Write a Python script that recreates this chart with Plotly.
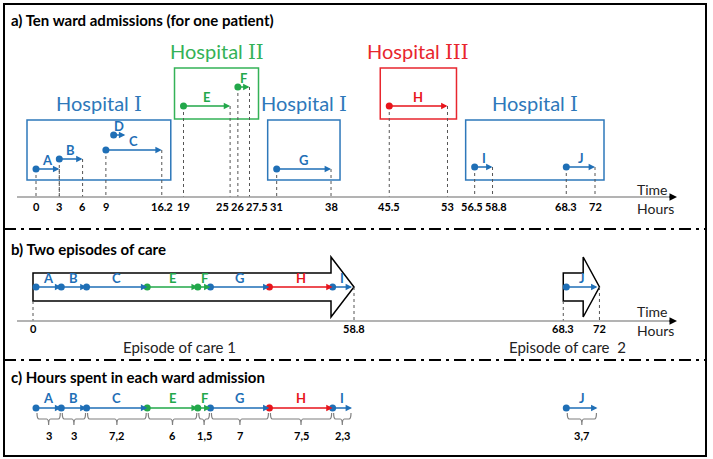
import plotly.graph_objects as go

# ---------------- data ----------------
wards = ["A", "B", "C", "D", "E", "F", "G", "H", "I", "J"]
start_h = [0, 3, 9, 10, 19, 26, 31, 45.5, 56.5, 68.3]
end_h = [3, 6, 16.2, 11.5, 25, 27.5, 38, 53, 58.8, 72]
hospitals = ["Hospital I", "Hospital I", "Hospital I", "Hospital I",
             "Hospital II", "Hospital II", "Hospital I", "Hospital III",
             "Hospital I", "Hospital I"]
stay_no = [1, 1, 1, 1, 2, 2, 3, 4, 5, 5]
nested_in = [None, None, None, "C", None, None, None, None, None, None]
episode_no = [1, 1, 1, 1, 1, 1, 1, 1, 1, 2]
episode_names = ["Episode of care 1", "Episode of care  2"]
panel_titles = ["a) Ten ward admissions (for one patient)",
                "b) Two episodes of care",
                "c) Hours spent in each ward admission"]

# ---------------- style / layout ----------------
W, H = 713, 459
FONT = "Lato"
COL = {"Hospital I": "#1F6FB6", "Hospital II": "#22A84A", "Hospital III": "#E8141B"}
BOXCOL = {"Hospital I": "#2E78BA", "Hospital II": "#34B257", "Hospital III": "#E8262E"}
LANE_A = {"A": 169, "B": 159, "C": 150, "D": 135, "E": 106, "F": 87,
          "G": 169, "H": 106, "I": 167, "J": 167}
BOX_Y = {"Hospital I": (120, 180), "Hospital II": (68, 119), "Hospital III": (68, 119)}
BOX_PAD = 9
AXIS_A_Y = 197
CHAIN_B_Y, CHAIN_C_Y = 287, 408
AXIS_B_Y = 321
A_X0, A_X1 = 36, 595
CH_X1 = 352
DOT = 7
HEAD = 0.85

t_min, t_max = min(start_h), max(end_h)
sA = (A_X1 - A_X0) / (t_max - t_min)
def pxA(t):
    return A_X0 + (t - t_min) * sA

chain_idx = [i for i in range(len(wards)) if nested_in[i] is None]
eps = sorted(set(episode_no))
ep1 = [i for i in chain_idx if episode_no[i] == eps[0]]
ep1_len = sum(end_h[i] - start_h[i] for i in ep1)
CH_X0 = pxA(start_h[ep1[0]])
sB = (CH_X1 - CH_X0) / ep1_len
def uB(px):
    return (px - CH_X0) / sB

u_start, u_end, ep_span = {}, {}, {}
for e in eps:
    members = [i for i in chain_idx if episode_no[i] == e]
    u = uB(pxA(start_h[members[0]]))
    u0 = u
    for i in members:
        u_start[i] = u
        u += end_h[i] - start_h[i]
        u_end[i] = u
    ep_span[e] = (u0, u, start_h[members[0]], end_h[members[-1]])

fig = go.Figure()
ann, shp = [], []

def px_paper(x):
    return x / W

def arrow(xref, x0, x1, y, color, width=1.5):
    ann.append(dict(xref=xref, yref="y", axref=xref, ayref="y", x=x1, y=y, ax=x0, ay=y,
                    text="", showarrow=True, arrowhead=2, arrowsize=HEAD, arrowwidth=width,
                    arrowcolor=color, standoff=0, startstandoff=0))

def text(x, y, s, size, color="#000", bold=False, xref="x", xanchor="center", xshift=0,
         yanchor="middle"):
    if bold:
        s = "<b>" + s + "</b>"
    ann.append(dict(xref=xref, yref="y", x=x, y=y, text=s, showarrow=False,
                    xanchor=xanchor, yanchor=yanchor, xshift=xshift, borderpad=0,
                    font=dict(family=FONT, size=size, color=color)))

def dotted(xs, y0s, y1s, xaxis):
    X, Y = [], []
    for x, a, b in zip(xs, y0s, y1s):
        X += [x, x, None]
        Y += [a, b, None]
    fig.add_trace(go.Scatter(x=X, y=Y, mode="lines", xaxis=xaxis, yaxis="y",
                             line=dict(color="#555555", width=1, dash="dot"),
                             hoverinfo="skip", showlegend=False))

def dots(xs, ys, colors, xaxis, size=DOT):
    fig.add_trace(go.Scatter(x=xs, y=ys, mode="markers", xaxis=xaxis, yaxis="y",
                             marker=dict(size=size, color=colors, line=dict(width=0)),
                             hoverinfo="skip", showlegend=False))

def roman_label(name):
    base, num = name.split(" ")
    return base + ' <span style="font-family:DejaVu Serif,serif">' + num + "</span>"

# ---------------- frame ----------------
shp.append(dict(type="rect", xref="paper", yref="y", x0=px_paper(4), x1=px_paper(706),
                y0=4, y1=456, line=dict(color="#000", width=2)))
for ysep in (229, 360):
    shp.append(dict(type="line", xref="paper", yref="y", x0=px_paper(4), x1=px_paper(706),
                    y0=ysep, y1=ysep, line=dict(color="#000", width=2, dash="12px,5px,3px,5px")))
for ty, t in zip((20, 249, 377), panel_titles):
    text(px_paper(10), ty, t, 15, bold=True, xref="paper", xanchor="left")

# ---------------- panel a ----------------
for s in sorted(set(stay_no)):
    mem = [i for i in range(len(wards)) if stay_no[i] == s]
    h = hospitals[mem[0]]
    x0 = min(start_h[i] for i in mem) - BOX_PAD / sA
    x1 = max(end_h[i] for i in mem) + BOX_PAD / sA
    yt, yb = BOX_Y[h]
    shp.append(dict(type="rect", xref="x", yref="y", x0=x0, x1=x1, y0=yt, y1=yb,
                    line=dict(color=BOXCOL[h], width=1.5), layer="below"))
    text((x0 + x1) / 2, yt - 3, roman_label(h), 20, color=BOXCOL[h], yanchor="bottom")

gx, gy0, gy1 = [], [], []
for i in chain_idx:
    for t in (start_h[i], end_h[i]):
        gx.append(t); gy0.append(LANE_A[wards[i]]); gy1.append(AXIS_A_Y)
dotted(gx, gy0, gy1, "x")

for i in range(len(wards)):
    c = COL[hospitals[i]]
    y = LANE_A[wards[i]]
    arrow("x", start_h[i], end_h[i], y, c)
    text((start_h[i] + end_h[i]) / 2, y - 9, wards[i], 13, color=c, bold=True)
dots(start_h, [LANE_A[w] for w in wards], [COL[h] for h in hospitals], "x")

shp.append(dict(type="line", xref="paper", yref="y", x0=px_paper(17), x1=px_paper(670),
                y0=AXIS_A_Y, y1=AXIS_A_Y, line=dict(color="#9a9a9a", width=1.5)))
ann.append(dict(xref="paper", yref="y", x=px_paper(677), y=AXIS_A_Y, ax=-9, ay=0, text="",
                showarrow=True, arrowhead=2, arrowsize=1, arrowwidth=1.5, arrowcolor="#000"))
text(px_paper(636), AXIS_A_Y + 2, "Time", 14, color="#222", xref="paper", xanchor="left",
     yanchor="bottom")
text(px_paper(636), AXIS_A_Y + 2, "Hours", 14, color="#222", xref="paper", xanchor="left",
     yanchor="top")

ticks = sorted(set([start_h[i] for i in chain_idx] + [end_h[i] for i in chain_idx]))
labels = [f"{t:g}" for t in ticks]
centers = [pxA(t) for t in ticks]
widths = [sum(6.2 if ch.isdigit() else 3.0 for ch in s) for s in labels]
c2 = list(centers)
for _ in range(300):
    moved = False
    for k in range(len(c2) - 1):
        need = (widths[k] + widths[k + 1]) / 2 + 2.5
        d = c2[k + 1] - c2[k]
        if d < need - 1e-6:
            p = (need - d) / 2
            c2[k] -= p; c2[k + 1] += p; moved = True
    if not moved:
        break
for t, s, c0, c1 in zip(ticks, labels, centers, c2):
    text(t, AXIS_A_Y + 9, s, 11, bold=True, xshift=c1 - c0)

# ---------------- panel b ----------------
B_TOP, B_BOT, HEAD_TOP, HEAD_BOT = 273, 301, 257, 317
for e in eps:
    u0, u1, t0, t1 = ep_span[e]
    left = u0 - 3 / sB
    tip = u1 + 2 / sB
    head = min(23, 0.45 * (tip - left) * sB) / sB
    hs = tip - head
    path = (f"M{left},{B_TOP} L{hs},{B_TOP} L{hs},{HEAD_TOP} L{tip},{CHAIN_B_Y} "
            f"L{hs},{HEAD_BOT} L{hs},{B_BOT} L{left},{B_BOT} Z")
    shp.append(dict(type="path", xref="x2", yref="y", path=path,
                    line=dict(color="#000", width=1.5), fillcolor="white", layer="below"))
    text(left, AXIS_B_Y + 7, f"{t0:g}", 11, bold=True, xref="x2")
    text(tip, AXIS_B_Y + 7, f"{t1:g}", 11, bold=True, xref="x2")
    dotted([left, tip], [B_BOT, CHAIN_B_Y], [AXIS_B_Y, AXIS_B_Y], "x2")
    text((left + tip) / 2, 347, episode_names[e - 1], 15, color="#222", xref="x2", xshift=-14)

for i in chain_idx:
    c = COL[hospitals[i]]
    arrow("x2", u_start[i], u_end[i], CHAIN_B_Y, c)
    text((u_start[i] + u_end[i]) / 2, CHAIN_B_Y - 9, wards[i], 13, color=c, bold=True, xref="x2")
dots([u_start[i] for i in chain_idx], [CHAIN_B_Y] * len(chain_idx),
     [COL[hospitals[i]] for i in chain_idx], "x2")

shp.append(dict(type="line", xref="paper", yref="y", x0=px_paper(17), x1=px_paper(670),
                y0=AXIS_B_Y, y1=AXIS_B_Y, line=dict(color="#9a9a9a", width=1.5)))
ann.append(dict(xref="paper", yref="y", x=px_paper(677), y=AXIS_B_Y, ax=-9, ay=0, text="",
                showarrow=True, arrowhead=2, arrowsize=1, arrowwidth=1.5, arrowcolor="#000"))
text(px_paper(636), AXIS_B_Y, "Time", 14, color="#222", xref="paper", xanchor="left",
     yanchor="bottom")
text(px_paper(636), AXIS_B_Y, "Hours", 14, color="#222", xref="paper", xanchor="left",
     yanchor="top")

# ---------------- panel c ----------------
BR_TOP, BR_BOT, BR_STUB = 413, 419, 425
r = 2 / sB
for i in chain_idx:
    c = COL[hospitals[i]]
    arrow("x2", u_start[i], u_end[i], CHAIN_C_Y, c)
    text((u_start[i] + u_end[i]) / 2, CHAIN_C_Y - 10, wards[i], 13, color=c, bold=True, xref="x2")
    x0 = u_start[i] + 1 / sB
    x1 = u_end[i] - 1 / sB
    m = (x0 + x1) / 2
    path = (f"M{x0},{BR_TOP} Q{x0},{BR_BOT} {x0 + r},{BR_BOT} L{m - r},{BR_BOT} "
            f"Q{m},{BR_BOT} {m},{BR_STUB} Q{m},{BR_BOT} {m + r},{BR_BOT} "
            f"L{x1 - r},{BR_BOT} Q{x1},{BR_BOT} {x1},{BR_TOP}")
    shp.append(dict(type="path", xref="x2", yref="y", path=path,
                    line=dict(color="#7f7f7f", width=1.2)))
    dur = end_h[i] - start_h[i]
    text(m, 435, f"{dur:g}".replace(".", ","), 11, bold=True, xref="x2")
dots([u_start[i] for i in chain_idx], [CHAIN_C_Y] * len(chain_idx),
     [COL[hospitals[i]] for i in chain_idx], "x2")

# ---------------- layout ----------------
fig.update_layout(
    width=W, height=H, margin=dict(l=0, r=0, t=0, b=0),
    paper_bgcolor="white", plot_bgcolor="white", showlegend=False,
    xaxis=dict(range=[t_min - A_X0 / sA, t_min + (W - A_X0) / sA], visible=False, fixedrange=True),
    xaxis2=dict(range=[uB(0), uB(W)], visible=False, overlaying="x", anchor="y", fixedrange=True),
    yaxis=dict(range=[H, 0], visible=False, fixedrange=True),
    annotations=ann, shapes=shp,
    font=dict(family=FONT),
)
fig.write_html("out.html", config={"displayModeBar": False},
               post_script="document.body.style.margin='0px';document.body.style.overflow='hidden';")
